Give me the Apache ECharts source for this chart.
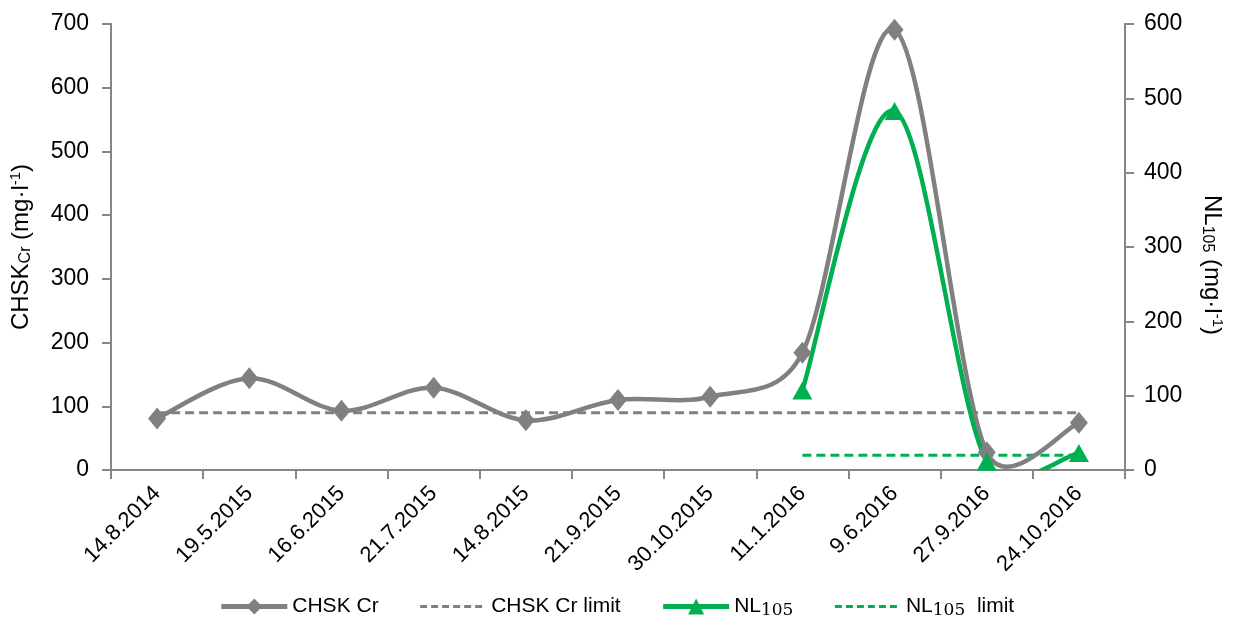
<!DOCTYPE html>
<html><head><meta charset="utf-8">
<script src="https://cdn.jsdelivr.net/npm/echarts@6/dist/echarts.min.js"></script>
<style>html,body{margin:0;padding:0;background:#fff}#c{width:1233px;height:627px}</style>
</head><body><div id="c"></div>
<script>
const categories = ['14.8.2014','19.5.2015','16.6.2015','21.7.2015','14.8.2015','21.9.2015','30.10.2015','11.1.2016','9.6.2016','27.9.2016','24.10.2016'];
const chskCr = [81, 144, 93, 129, 78, 110, 115, 184, 691, 28, 74];
const chskCrLimit = [90, 90, 90, 90, 90, 90, 90, 90, 90, 90, 90];
const nl105 = [null, null, null, null, null, null, null, 107, 483, 11, 23];
const nl105Limit = [null, null, null, null, null, null, null, 20, 20, 20, 20];
const leftTicks = [0, 700, 100];
const rightTicks = [0, 600, 100];

const FONT = "'Liberation Sans', Arial, sans-serif";
const AX = '#868686';
const GRAY = '#808080';
const GREEN = '#00B050';

// Excel-style smoothed curve, computed in pixel space from axis coordinates
function smoothPath(values, api) {
  const pts = [];
  values.forEach(function (v, i) { if (v !== null && v !== undefined) pts.push(api.coord([i, v])); });
  if (pts.length < 2) return '';
  const d = function (a, b) { return Math.hypot(b[0] - a[0], b[1] - a[1]); };
  let s = 'M' + pts[0][0] + ' ' + pts[0][1];
  for (let i = 0; i < pts.length - 1; i++) {
    const p1 = pts[i], p2 = pts[i + 1];
    const p0 = i > 0 ? pts[i - 1] : p1;
    const p3 = i + 2 < pts.length ? pts[i + 2] : p2;
    const d12 = d(p1, p2), d02 = d(p0, p2) || 1, d13 = d(p1, p3) || 1;
    const f1 = Math.min(1 / 6, 0.5 * d12 / d02);
    const f2 = Math.min(1 / 6, 0.5 * d12 / d13);
    const c1 = [p1[0] + (p2[0] - p0[0]) * f1, p1[1] + (p2[1] - p0[1]) * f1];
    const c2 = [p2[0] - (p3[0] - p1[0]) * f2, p2[1] - (p3[1] - p1[1]) * f2];
    s += ' C' + c1[0] + ' ' + c1[1] + ' ' + c2[0] + ' ' + c2[1] + ' ' + p2[0] + ' ' + p2[1];
  }
  return s;
}
function curveSeries(name, values, axisIndex, color, z) {
  const firstIdx = values.findIndex(function (v) { return v !== null; });
  return {
    name: name, type: 'custom', yAxisIndex: axisIndex, clip: true, z: z, silent: true,
    data: values.map(function (v, i) { return [i, v === null ? '-' : v]; }),
    encode: {x: 0, y: 1},
    renderItem: function (params, api) {
      if (params.dataIndex !== firstIdx) return null;
      return {type: 'path', shape: {pathData: smoothPath(values, api)},
        style: {fill: null, stroke: color, lineWidth: 4.5, lineJoin: 'round', lineCap: 'round'}};
    }
  };
}

const chart = echarts.init(document.getElementById('c'), null, {renderer: 'canvas'});
chart.setOption({
  animation: false,
  textStyle: {fontFamily: FONT, color: '#000'},
  grid: {left: 107, right: 101, top: 24, bottom: 157, containLabel: false},
  legend: {
    bottom: 3, left: 'center',
    itemWidth: 66, itemHeight: 20, itemGap: 40,
    textStyle: {fontFamily: FONT, fontSize: 21, color: '#000',
      rich: {s: {fontFamily: "'DejaVu Serif', serif", fontSize: 17, verticalAlign: 'bottom', padding: [8, 0, 0, 0], color: '#000'}}},
    formatter: function (n) {
      if (n === 'NL105') return 'NL{s|105}';
      if (n === 'NL105 limit') return 'NL{s|105}  limit';
      return n;
    },
    data: [
      {name: 'CHSK Cr', lineStyle: {color: GRAY, width: 5, opacity: 1}},
      {name: 'CHSK Cr limit', itemStyle: {opacity: 0}, lineStyle: {color: GRAY, width: 3, type: [7, 4], opacity: 1}},
      {name: 'NL105', lineStyle: {color: GREEN, width: 5, opacity: 1}},
      {name: 'NL105 limit', itemStyle: {opacity: 0}, lineStyle: {color: GREEN, width: 3, type: [7, 4], opacity: 1}}
    ]
  },
  xAxis: {
    type: 'category', data: categories, boundaryGap: true,
    axisLine: {lineStyle: {color: AX, width: 2}},
    axisTick: {show: true, length: 9, lineStyle: {color: AX, width: 2}},
    axisLabel: {rotate: 45, fontSize: 22, color: '#000', margin: 20, interval: 0}
  },
  yAxis: [{
    type: 'value', min: leftTicks[0], max: leftTicks[1], interval: leftTicks[2],
    name: 'CHSK{s|Cr} (mg·l{p|-1})', nameLocation: 'middle', nameGap: 77, nameRotate: 90,
    nameTextStyle: {fontSize: 24, color: '#000', fontFamily: FONT, padding: [0, 0, 0, 0],
      rich: {s: {fontSize: 16, verticalAlign: 'bottom', padding: [10, 0, 0, 0], fontFamily: FONT},
             p: {fontSize: 15, verticalAlign: 'top', padding: [0, 0, 9, 0], fontFamily: FONT}}},
    axisLine: {show: true, lineStyle: {color: AX, width: 2}},
    axisTick: {show: true, length: 9, lineStyle: {color: AX, width: 2}},
    axisLabel: {fontSize: 23, color: '#000', margin: 22},
    splitLine: {show: false}
  }, {
    type: 'value', min: rightTicks[0], max: rightTicks[1], interval: rightTicks[2], position: 'right',
    name: 'NL{s|105} (mg·l{p|-1})', nameLocation: 'middle', nameGap: 74, nameRotate: -90,
    nameTextStyle: {fontSize: 24, color: '#000', fontFamily: FONT, padding: [0, 0, 0, 36],
      rich: {s: {fontSize: 16, verticalAlign: 'bottom', padding: [10, 0, 0, 0], fontFamily: FONT},
             p: {fontSize: 15, verticalAlign: 'top', padding: [0, 0, 9, 0], fontFamily: FONT}}},
    axisLine: {show: true, lineStyle: {color: AX, width: 2}},
    axisTick: {show: true, length: 9, lineStyle: {color: AX, width: 2}},
    axisLabel: {fontSize: 23, color: '#000', margin: 19},
    splitLine: {show: false}
  }],
  series: [{
    name: 'CHSK Cr limit', type: 'line', yAxisIndex: 0, data: chskCrLimit,
    symbol: 'none', lineStyle: {color: GRAY, width: 3, type: [9, 5]}, itemStyle: {color: GRAY}, z: 1
  }, {
    name: 'NL105 limit', type: 'line', yAxisIndex: 1, data: nl105Limit,
    symbol: 'none', lineStyle: {color: GREEN, width: 3, type: [9, 5]}, itemStyle: {color: GREEN}, z: 1
  },
  curveSeries('CHSK Cr curve', chskCr, 0, GRAY, 2),
  curveSeries('NL105 curve', nl105, 1, GREEN, 3),
  {
    name: 'CHSK Cr', type: 'line', yAxisIndex: 0, data: chskCr,
    symbol: 'diamond', symbolSize: [18, 22],
    lineStyle: {opacity: 0}, itemStyle: {color: GRAY}, z: 4
  }, {
    name: 'NL105', type: 'line', yAxisIndex: 1, data: nl105,
    symbol: 'triangle', symbolSize: [20, 18],
    lineStyle: {opacity: 0}, itemStyle: {color: GREEN}, z: 5
  }]
});
</script></body></html>
